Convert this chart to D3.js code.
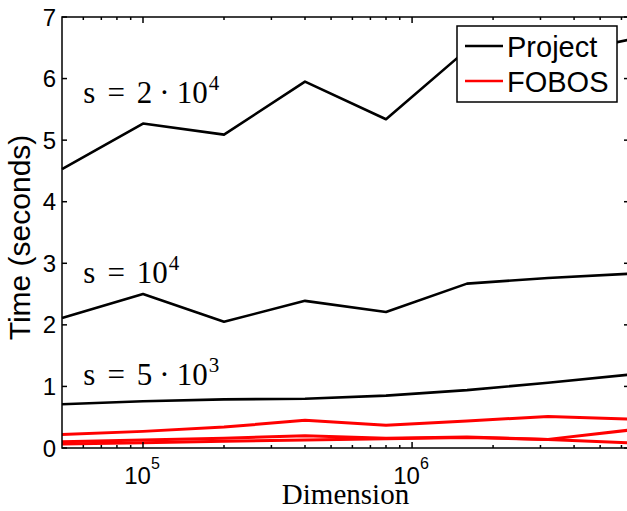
<!DOCTYPE html>
<html>
<head>
<meta charset="utf-8">
<script src="https://cdn.jsdelivr.net/npm/d3@7"></script>
<style>
  html, body { margin: 0; padding: 0; background: #fff; }
  svg { display: block; }
</style>
</head>
<body>
<svg id="chart" width="627" height="511"></svg>
<script>
// ---- data ----
const dimensions = [5e4, 1e5, 2e5, 4e5, 8e5, 1.6e6, 3.2e6, 6.4e6];
const project_s20k = [4.53, 5.27, 5.09, 5.95, 5.34, 6.47, 6.36, 6.63];
const project_s10k = [2.11, 2.50, 2.05, 2.39, 2.21, 2.67, 2.76, 2.83];
const project_s5k  = [0.71, 0.76, 0.79, 0.80, 0.85, 0.94, 1.06, 1.19];
const fobos_a = [0.22, 0.27, 0.34, 0.45, 0.37, 0.44, 0.51, 0.47];
const fobos_b = [0.10, 0.13, 0.16, 0.20, 0.16, 0.18, 0.14, 0.29];
const fobos_c = [0.065, 0.085, 0.11, 0.13, 0.15, 0.17, 0.14, 0.085];
const yTicks = [0, 1, 2, 3, 4, 5, 6, 7];
const xMajorTicks = [1e5, 1e6];
const xMajorExp = ["5", "6"];
const annotations = [
  {x: 6e4, y: 5.60, parts: ["s", "=", "2", "·", "10"], sup: "4"},
  {x: 6e4, y: 2.68, parts: ["s", "=", "10"], sup: "4"},
  {x: 6e4, y: 1.02, parts: ["s", "=", "5", "·", "10"], sup: "3"}
];
const legendNames = ["Project", "FOBOS"];
const xLabel = "Dimension";
const yLabel = "Time (seconds)";

// ---- layout ----
const svg = d3.select("#chart");
const L = 62, R = 629, T = 17, B = 448;
const x = d3.scaleLog().domain([5e4, 6.4e6]).range([L, R]);
const y = d3.scaleLinear().domain([0, 7]).range([B, T]);

// minor ticks
const minor = [];
for (let e = 4; e <= 6; e++) for (let m = 2; m <= 9; m++) {
  const v = m * Math.pow(10, e);
  if (v > 5e4 && v < 6.4e6) minor.push(v);
}

const line = d3.line().x((d, i) => x(dimensions[i])).y(d => y(d));

const lines = svg.append("g");
[project_s20k, project_s10k, project_s5k].forEach(s => {
  lines.append("path").attr("d", line(s)).attr("fill", "none")
    .attr("stroke", "#000").attr("stroke-width", 2.6).attr("stroke-linejoin", "round");
});
[fobos_a, fobos_b, fobos_c].forEach(s => {
  lines.append("path").attr("d", line(s)).attr("fill", "none")
    .attr("stroke", "#ff0000").attr("stroke-width", 3).attr("stroke-linejoin", "round");
});

// axes box
const ax = svg.append("g").attr("stroke", "#000").attr("stroke-width", 1.5);
ax.append("rect").attr("x", L).attr("y", T).attr("width", R - L).attr("height", B - T)
  .attr("fill", "none");
yTicks.forEach(t => {
  ax.append("line").attr("x1", L).attr("x2", L + 5).attr("y1", y(t)).attr("y2", y(t));
  ax.append("line").attr("x1", R).attr("x2", R - 5).attr("y1", y(t)).attr("y2", y(t));
});
xMajorTicks.forEach(t => {
  ax.append("line").attr("x1", x(t)).attr("x2", x(t)).attr("y1", B).attr("y2", B - 6);
  ax.append("line").attr("x1", x(t)).attr("x2", x(t)).attr("y1", T).attr("y2", T + 6);
});
minor.forEach(t => {
  ax.append("line").attr("x1", x(t)).attr("x2", x(t)).attr("y1", B).attr("y2", B - 3);
  ax.append("line").attr("x1", x(t)).attr("x2", x(t)).attr("y1", T).attr("y2", T + 3);
});

const sans = "'Liberation Sans', Arial, Helvetica, sans-serif";
const serif = "'Liberation Serif', 'Times New Roman', serif";

// y tick labels
svg.append("g").selectAll("text").data(yTicks).join("text")
  .attr("x", L - 6).attr("y", d => y(d) + 8.5)
  .attr("text-anchor", "end").attr("font-family", sans).attr("font-size", 24)
  .text(d => d);

// x tick labels
xMajorTicks.forEach((t, i) => {
  const tx = svg.append("text").attr("x", x(t) - 1).attr("y", 484)
    .attr("text-anchor", "middle").attr("font-family", sans).attr("font-size", 24);
  tx.append("tspan").text("10");
  tx.append("tspan").attr("dy", -15).attr("font-size", 16).text(xMajorExp[i]);
});

// axis titles
svg.append("text").attr("x", (L + 627) / 2 + 1).attr("y", 504)
  .attr("text-anchor", "middle").attr("font-family", serif).attr("font-size", 29)
  .text(xLabel);
svg.append("text").attr("transform", `translate(30,${(T + B) / 2 + 5}) rotate(-90)`)
  .attr("text-anchor", "middle").attr("font-family", sans).attr("font-size", 30)
  .text(yLabel);

// annotations (math-like spacing)
const gaps = {"=": 12, "·": 7};
annotations.forEach(a => {
  const tx = svg.append("text").attr("x", x(a.x)).attr("y", y(a.y))
    .attr("font-family", serif).attr("font-size", 31);
  let prev = null;
  a.parts.forEach((p, i) => {
    const dx = i > 0 ? (gaps[p] || gaps[prev] || 0) : 0;
    tx.append("tspan").attr("dx", dx).text(p);
    prev = p;
  });
  tx.append("tspan").attr("dx", 1).attr("dy", -13).attr("font-size", 21).text(a.sup);
});

// legend
const lg = svg.append("g");
lg.append("rect").attr("x", 457).attr("y", 26).attr("width", 160).attr("height", 76)
  .attr("fill", "#fff").attr("stroke", "#000").attr("stroke-width", 1.5);
const legendColors = ["#000", "#ff0000"];
legendNames.forEach((n, i) => {
  const cy = 46 + i * 35;
  lg.append("line").attr("x1", 465).attr("x2", 503).attr("y1", cy).attr("y2", cy)
    .attr("stroke", legendColors[i]).attr("stroke-width", 2.4);
  lg.append("text").attr("x", 507).attr("y", cy + 10.5)
    .attr("font-family", sans).attr("font-size", 29).text(n);
});
</script>
</body>
</html>
